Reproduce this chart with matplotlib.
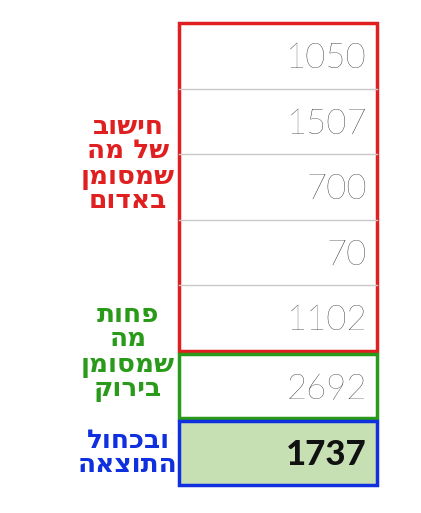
import matplotlib
matplotlib.use("Agg")
import matplotlib.pyplot as plt
from matplotlib.patches import Rectangle

red_values = [1050, 1507, 700, 70, 1102]
green_values = [2692]
result_values = [1737]
red_label = ["חישוב", "של מה", "שמסומן", "באדום"]
green_label = ["פחות", "מה", "שמסומן", "בירוק"]
blue_label = ["ובכחול", "התוצאה"]

def rtl(s):
    return s[::-1]

fig = plt.figure(figsize=(4.21, 5.13), dpi=100)
ax = fig.add_axes([0, 0, 1, 1])
ax.set_xlim(0, 421); ax.set_ylim(513, 0); ax.axis("off")

x0, x1 = 179, 377
row_h = 65.6
top = 23
numfont = dict(fontsize=25, color="#111", family=["Lato", "DejaVu Sans"])
for i, v in enumerate(red_values):
    y = top + i * row_h
    if i > 0:
        ax.plot([x0, x1], [y, y], color="#c8c8c8", lw=1)
    ax.text(x1 - 10, y + row_h / 2 + 2, str(v), ha="right", va="center", fontweight="light", **numfont)
red_bottom = top + len(red_values) * row_h
ax.add_patch(Rectangle((x0, top), x1 - x0, red_bottom - top, fill=False, ec="#e02020", lw=2.5))
gy = red_bottom + 3
gh = 64
ax.add_patch(Rectangle((x0, gy), x1 - x0, gh, fill=False, ec="#2a9a1a", lw=2.5))
ax.text(x1 - 10, gy + gh / 2 + 2, str(green_values[0]), ha="right", va="center", fontweight="light", **numfont)
by = gy + gh + 3
bh = 64
ax.add_patch(Rectangle((x0, by), x1 - x0, bh, fc="#c6e0b4", ec="#1030e0", lw=2.5))
ax.text(x1 - 10, by + bh / 2 + 2, str(result_values[0]), ha="right", va="center", fontweight="black", **numfont)

def label(lines, yc, color):
    ax.text(128, yc, "\n".join(rtl(l) for l in lines), ha="center", va="center",
            fontsize=19, fontweight="bold", color=color, linespacing=0.95)

label(red_label, 164, "#e02020")
label(green_label, 352, "#2a9a1a")
label(blue_label, 453, "#1030e0")

fig.savefig("out.png", dpi=100)
